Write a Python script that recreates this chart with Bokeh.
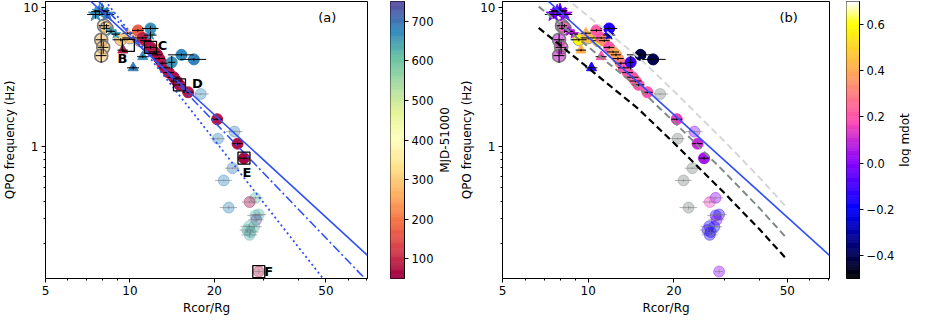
import numpy as np
from bokeh.plotting import figure
from bokeh.models import (ColumnDataSource, FixedTicker, PrintfTickFormatter,
                          CustomJSTickFormatter, LinearColorMapper, Label, LabelSet)
from bokeh.layouts import row
from bokeh.transform import transform
from bokeh.core.properties import value
from bokeh.embed import file_html
from bokeh.resources import INLINE

FONT = "DejaVu Sans"
NAN = float("nan")

# ---------------- data ----------------
# opaque circles: Rcor/Rg, QPO frequency, MJD-51000, log mdot, errors
circ_R = [10.68, 11.10, 11.38, 11.84, 12.22, 12.51, 12.71, 13.02, 13.33, 13.76,
          14.32, 14.67, 15.02, 16.13, 20.46, 24.20, 25.50, 11.84, 15.26, 16.90, 14.09]
circ_nu = [6.81, 6.01, 5.74, 5.14, 4.76, 4.54, 4.27, 3.95, 3.66, 3.38,
           3.13, 2.94, 2.76, 2.44, 1.56, 1.04, 0.817, 7.03, 4.54, 4.21, 4.01]
circ_mjd = [170, 90, 80, 70, 80, 75, 70, 80, 70, 80,
            70, 75, 70, 80, 80, 70, 60, 670, 680, 685, 665]
circ_lm = [0.22, 0.20, 0.35, 0.20, 0.35, 0.40, 0.38, 0.30, 0.20, 0.22,
           0.20, 0.25, 0.20, 0.20, 0.15, 0.10, 0.05, -0.15, -0.42, -0.40, -0.12]
circ_xerr = [0.5, 0.5, 0.5, 0.5, 0.6, 0.5, 0.6, 0.6, 0.6, 0.6,
             0.7, 0.7, 0.7, 0.7, 0.9, 1.0, 1.0, 0.8, 1.6, 1.8, 0.4]
circ_yerr = [0.15, 0.12, 0.12, 0.12, 0.10, 0.10, 0.10, 0.10, 0.08, 0.08,
             0.08, 0.07, 0.06, 0.05, 0.03, 0.02, 0.02, 0.30, 0.10, 0.10, 0.45]

# light circles with grey rim
pch_R = [9.27, 10.00, 10.85]
pch_nu = [5.83, 6.01, 5.74]
pch_mjd = [300, 290, 310]
pch_lm = [0.60, 0.45, 0.58]
pch_xerr = [0.6, 0.6, 0.6]
pch_yerr = [0.15, 0.15, 0.15]

# left column of ringed circles
ring_R = [8.09, 8.25, 7.90, 8.03, 7.90]
ring_nu = [7.36, 7.05, 5.83, 5.14, 4.48]
ring_mjd = [290, 300, 280, 290, 300]
ring_lm = [0.15, 0.18, 0.10, 0.15, 0.10]
ring_xerr = [0.35, 0.35, 0.35, 0.35, 0.35]
ring_yerr = [0.5, 0.5, 0.6, 0.5, 0.5]

# stars
starA_R = [7.54, 7.78, 7.96, 8.29]
starA_nu = [8.87, 9.29, 9.44, 8.87]
starA_mjd = [670, 680, 660, 690]
starA_lm = [-0.05, 0.00, -0.10, 0.02]
starA_xerr = [0.5, 0.5, 0.5, 0.5]
starA_yerr = [0.6, 0.6, 0.6, 0.6]

starB_R = [8.56, 8.90, 11.84]
starB_nu = [6.70, 6.40, 6.30]
starB_mjd = [660, 650, 670]
starB_lm = [0.05, 0.08, -0.20]
starB_xerr = [0.3, 0.3, 0.6]
starB_yerr = [0.2, 0.2, 0.4]

# triangles
tri_R = [9.43, 9.81, 11.11, 10.27]
tri_nu = [4.91, 6.50, 4.40, 3.66]
tri_mjd = [90, 300, 670, 690]
tri_lm = [0.42, 0.42, 0.20, -0.15]
tri_xerr = [0.4, 0.4, 0.5, 0.5]
tri_yerr = [0.1, 0.1, 0.1, 0.1]

# faint (translucent) circles
fnt_R = [17.88, 23.6, 20.6, 23.2, 21.6, 22.5, 28.0, 26.7, 28.0, 28.8, 28.2,
         26.6, 27.7, 26.2, 26.9, 26.7, 28.8]
fnt_nu = [2.37, 1.27, 1.13, 0.692, 0.565, 0.36, 0.423, 0.395, 0.316, 0.321, 0.294,
          0.264, 0.262, 0.248, 0.240, 0.229, 0.1245]
fnt_mjd = [680, 690, 680, 690, 680, 680, 620, 60, 620, 630, 745,
           620, 630, 620, 640, 630, 80]
fnt_lm = [NAN, 0.0, NAN, NAN, NAN, NAN, 0.0, 0.15, -0.12, -0.15, 0.0,
          -0.15, -0.18, -0.12, -0.18, -0.15, 0.02]
fnt_xerr = [1.2, 1.6, 1.2, 1.4, 1.5, 1.6, 1.8, 1.6, 1.8, 1.8, 1.8,
            1.8, 1.8, 1.6, 1.8, 1.7, 1.0]
fnt_yerr = [0.03, 0.02, 0.02, 0.01, 0.01, 0.01, 0.01, 0.01, 0.01, 0.01, 0.01,
            0.01, 0.01, 0.01, 0.01, 0.01, 0.005]

# marked observations
sq_R = [9.87, 11.84, 15.02, 25.5, 28.8]
sq_nu = [5.31, 5.14, 2.76, 0.817, 0.1245]
sq_lab = ["B", "C", "D", "E", "F"]

# model lines
fit_R = [7.19, 70.3]
fit_nu = [11.2, 0.163]
dd_R = [7.67, 68.8]
dd_nu = [11.2, 0.111]
dot_R = [8.14, 48.8]
dot_nu = [11.2, 0.111]
mod_R = [6.7, 10, 15, 20, 30, 40, 50]
mod_black = [7.1, 3.65, 1.85, 1.05, 0.46, 0.25, 0.151]
mod_dgray = [10.1, 5.18, 2.63, 1.49, 0.653, 0.355, 0.214]
mod_lgray = [16.8, 8.61, 4.37, 2.48, 1.086, 0.59, 0.356]

mjd_ticks = [100, 200, 300, 400, 500, 600, 700]
lm_ticks = [-0.4, -0.2, 0.0, 0.2, 0.4, 0.6]

# ---------------- palettes ----------------
spectral_anchors = ["#9e0142", "#d53e4f", "#f46d43", "#fdae61", "#fee08b", "#ffffbf",
                    "#e6f598", "#abdda4", "#66c2a5", "#3288bd", "#5e4fa2"]


def interp_palette(anchors, n=256):
    rgb = np.array([[int(h[i:i + 2], 16) for i in (1, 3, 5)] for h in anchors], float)
    t = np.linspace(0, 1, len(anchors))
    s = np.linspace(0, 1, n)
    out = np.stack([np.interp(s, t, rgb[:, k]) for k in range(3)], 1)
    return ["#%02x%02x%02x" % tuple(int(round(v)) for v in c) for c in out]


def gnuplot2(n=256):
    s = np.linspace(0, 1, n)
    r = np.clip(s / 0.32 - 0.78125, 0, 1)
    g = np.clip(2 * s - 0.84, 0, 1)
    b = np.where(s < 0.25, 4 * s, np.where(s < 0.92, -2 * s + 1.84, s / 0.08 - 11.5))
    b = np.clip(b, 0, 1)
    return ["#%02x%02x%02x" % (int(round(a * 255)), int(round(c * 255)), int(round(d * 255)))
            for a, c, d in zip(r, g, b)]


PAL_A = interp_palette(spectral_anchors)
PAL_B = gnuplot2()
MAP_A = LinearColorMapper(palette=PAL_A, low=50, high=750)
MAP_B = LinearColorMapper(palette=PAL_B, low=-0.5, high=0.7, nan_color="#78847f")

H = 317
TOP = 1
BOT = 36
BLUE = "#3050f5"


def make_src(R, nu, mjd, lm, xerr, yerr):
    R = np.array(R, float)
    nu = np.array(nu, float)
    xe = np.array(xerr, float)
    ye = np.array(yerr, float)
    return ColumnDataSource(dict(R=R, nu=nu, mjd=np.array(mjd, float), lm=np.array(lm, float),
                                 xl=R - xe, xh=R + xe, yl=nu - ye, yh=nu + ye))


def style_axis(ax, size="12px"):
    ax.major_label_text_font = FONT
    ax.major_label_text_font_size = size
    ax.major_label_text_color = "black"
    ax.axis_label_text_font = FONT
    ax.axis_label_text_font_size = "12px"
    ax.axis_label_text_font_style = "normal"
    ax.axis_label_text_color = "black"
    ax.major_tick_in = 0
    ax.major_tick_out = 4
    ax.minor_tick_in = 0
    ax.minor_tick_out = 2
    ax.axis_line_color = "black"
    ax.major_tick_line_color = "black"
    ax.minor_tick_line_color = "black"
    ax.major_label_standoff = 3
    ax.axis_label_standoff = 3


def errbars(p, src, color, alpha=1.0, width=1.0):
    p.segment(x0="xl", y0="nu", x1="xh", y1="nu", source=src, line_color=color,
              line_alpha=alpha, line_width=width)
    p.segment(x0="R", y0="yl", x1="R", y1="yh", source=src, line_color=color,
              line_alpha=alpha, line_width=width)


def main_fig(width, bl, br, field, mapper, panel):
    p = figure(width=width, height=H, x_axis_type="log", y_axis_type="log",
               x_range=(5, 70.3), y_range=(0.111, 11.0),
               output_backend="svg", toolbar_location=None,
               min_border_left=bl, min_border_right=br,
               min_border_top=TOP, min_border_bottom=BOT)
    p.grid.visible = False
    p.outline_line_color = "black"
    p.outline_line_width = 1
    p.outline_line_alpha = 1
    p.background_fill_color = "white"
    p.border_fill_color = "white"
    p.xaxis.axis_label = "Rcor/Rg"
    p.yaxis.axis_label = "QPO frequency (Hz)"
    p.xaxis.ticker = FixedTicker(ticks=[5, 10, 20, 50], minor_ticks=[6, 7, 8, 9, 30, 40, 60, 70])
    p.yaxis.ticker = FixedTicker(ticks=[1, 10],
                                 minor_ticks=[0.2, 0.3, 0.4, 0.5, 0.6, 0.7, 0.8, 0.9,
                                              2, 3, 4, 5, 6, 7, 8, 9])
    p.xaxis.formatter = PrintfTickFormatter(format="%d")
    p.yaxis.formatter = PrintfTickFormatter(format="%d")
    style_axis(p.xaxis[0])
    style_axis(p.yaxis[0])

    col = transform(field, mapper)

    s_f = make_src(fnt_R, fnt_nu, fnt_mjd, fnt_lm, fnt_xerr, fnt_yerr)
    p.scatter("R", "nu", source=s_f, marker="circle", size=11, fill_color=col,
              line_color=col, fill_alpha=0.38, line_alpha=0.38)
    errbars(p, s_f, "#777777", alpha=0.55)

    s_r = make_src(ring_R, ring_nu, ring_mjd, ring_lm, ring_xerr, ring_yerr)
    p.scatter("R", "nu", source=s_r, marker="circle", size=13, fill_color=col,
              fill_alpha=0.6, line_color="#7a7a7a", line_width=1.6)
    errbars(p, s_r, "black")

    s_p = make_src(pch_R, pch_nu, pch_mjd, pch_lm, pch_xerr, pch_yerr)
    p.scatter("R", "nu", source=s_p, marker="circle", size=12, fill_color=col,
              line_color="#9a9a9a", line_width=1)
    errbars(p, s_p, "black")

    s_c = make_src(circ_R, circ_nu, circ_mjd, circ_lm, circ_xerr, circ_yerr)
    p.scatter("R", "nu", source=s_c, marker="circle", size=11, fill_color=col,
              line_color=col, line_width=1)
    errbars(p, s_c, "black")

    s_t = make_src(tri_R, tri_nu, tri_mjd, tri_lm, tri_xerr, tri_yerr)
    p.scatter("R", "nu", source=s_t, marker="triangle", size=10, fill_color=col,
              line_color=col)
    errbars(p, s_t, "black")

    s_sa = make_src(starA_R, starA_nu, starA_mjd, starA_lm, starA_xerr, starA_yerr)
    p.scatter("R", "nu", source=s_sa, marker="star", size=15, fill_color=col,
              line_color=col)
    errbars(p, s_sa, "black")

    s_sb = make_src(starB_R, starB_nu, starB_mjd, starB_lm, starB_xerr, starB_yerr)
    p.scatter("R", "nu", source=s_sb, marker="star", size=10, fill_color=col,
              line_color=col)
    errbars(p, s_sb, "black")

    p.line(fit_R, fit_nu, line_color=BLUE, line_width=1.6)

    if panel == "a":
        p.line(dd_R, dd_nu, line_color=BLUE, line_width=1.6, line_dash="9 3 2 3")
        p.line(dot_R, dot_nu, line_color=BLUE, line_width=1.8, line_dash="2 3")
        s_sq = ColumnDataSource(dict(R=sq_R, nu=sq_nu, lab=sq_lab,
                                     dx=[-6, 12, 18, 3, 10], dy=[-13, 2, 1, -14, 0]))
        p.scatter("R", "nu", source=s_sq, marker="square", size=12, fill_color=None,
                  line_color="black", line_width=1.3)
        p.add_layout(LabelSet(x="R", y="nu", text="lab", source=s_sq, x_offset="dx",
                              y_offset="dy", text_font=value(FONT),
                              text_font_size=value("13px"),
                              text_font_style="bold", text_align="center",
                              text_baseline="middle", text_color="black"))
    else:
        p.line(mod_R, mod_lgray, line_color="#d3d8d6", line_width=2, line_dash="7 4")
        p.line(mod_R, mod_dgray, line_color="#808a86", line_width=2, line_dash="7 4")
        p.line(mod_R, mod_black, line_color="black", line_width=2.2, line_dash="7 4")

    p.add_layout(Label(x=50.5, y=8.4, text="(%s)" % panel, text_font=FONT,
                       text_font_size="13px", text_align="center",
                       text_baseline="middle", text_color="black"))
    return p


def cbar_fig(width, bl, br, pal, low, high, ticks, formatter):
    c = figure(width=width, height=H, x_range=(0, 1), y_range=(low, high),
               x_axis_location=None, y_axis_location="right",
               output_backend="svg", toolbar_location=None,
               min_border_left=bl, min_border_right=br,
               min_border_top=TOP, min_border_bottom=BOT)
    c.grid.visible = False
    c.outline_line_color = "black"
    c.outline_line_width = 1
    c.outline_line_alpha = 1
    c.border_fill_color = "white"
    edges = np.linspace(low, high, len(pal) + 1)
    c.quad(left=0, right=1, bottom=edges[:-1], top=edges[1:], fill_color=pal,
           line_color=pal, line_width=0.6)
    ax = c.yaxis[0]
    ax.ticker = FixedTicker(ticks=ticks, minor_ticks=[])
    ax.formatter = formatter
    style_axis(ax, size="11.5px")
    return c


def label_fig(width, text):
    f = figure(width=width, height=H, x_range=(0, 1), y_range=(0, 1),
               x_axis_location=None, y_axis_location=None,
               output_backend="svg", toolbar_location=None,
               min_border_left=0, min_border_right=0,
               min_border_top=TOP, min_border_bottom=BOT)
    f.grid.visible = False
    f.outline_line_color = None
    f.border_fill_color = "white"
    f.text(x=[0.5], y=[0.5], text=[text], angle=np.pi / 2,
           text_font=value(FONT), text_font_size=value("12px"),
           text_align="center", text_baseline="middle", text_color="black")
    return f


pA = main_fig(385, 40, 18, "mjd", MAP_A, "a")
cA = cbar_fig(52, 5, 33, PAL_A, 50, 750, mjd_ticks, PrintfTickFormatter(format="%d"))
lA = label_fig(14, "MJD-51000")
pB = main_fig(390, 51, 12, "lm", MAP_B, "b")
fmtB = CustomJSTickFormatter(code="return (tick < -1e-9 ? '\u2212' : '') + Math.abs(tick).toFixed(1);")
cB = cbar_fig(56, 5, 37, PAL_B, -0.5, 0.7, lm_ticks, fmtB)
lB = label_fig(14, "log mdot")

layout = row(pA, cA, lA, pB, cB, lB)
open("out.html", "w").write(file_html(layout, INLINE))
